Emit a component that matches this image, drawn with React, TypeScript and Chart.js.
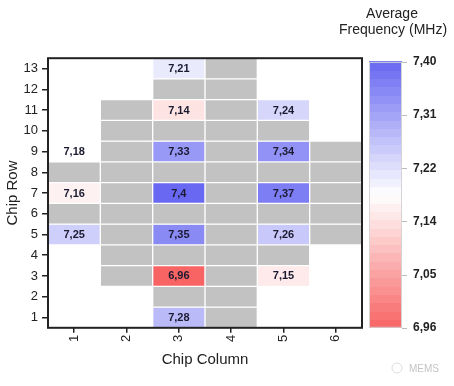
import React, { useEffect, useRef } from 'react';
import { Chart, registerables } from 'chart.js';
Chart.register(...registerables);

const columns = ['1', '2', '3', '4', '5', '6'];
const rowTicks = [1, 2, 3, 4, 5, 6, 7, 8, 9, 10, 11, 12, 13];
// rows 1..13 per column: number = measured frequency (MHz), 0 = chip without data (gray), null = no chip
const column1 = [null, null, null, null, 7.25, 0, 7.16, 0, 7.18, null, null, null, null];
const column2 = [null, null, 0, 0, 0, 0, 0, 0, 0, 0, 0, null, null];
const column3 = [7.28, 0, 6.96, 0, 7.35, 0, 7.4, 0, 7.33, 0, 7.14, 0, 7.21];
const column4 = [0, 0, 0, 0, 0, 0, 0, 0, 0, 0, 0, 0, 0];
const column5 = [null, null, 7.15, 0, 7.26, 0, 7.37, 0, 7.34, 0, 7.24, null, null];
const column6 = [null, null, null, null, 0, 0, 0, 0, 0, null, null, null, null];
// colorbar ticks (equally spaced levels, shown rounded to 2 decimals)
const colorbarTicks = [6.96, 7.048, 7.136, 7.224, 7.312, 7.4];
const colorMin = 6.96;
const colorMid = 7.18;
const colorMax = 7.4;

const FONT = "'Liberation Sans', Arial, Helvetica, sans-serif";
const GRAY = '#c2c2c2';
const RED = [248, 100, 100];
const WHITE = [255, 255, 255];
const BLUE = [104, 104, 242];

function lerp(a: number[], b: number[], t: number) {
  return a.map((v, i) => Math.round(v + (b[i] - v) * t));
}
function colorFor(v: number) {
  let c;
  if (v <= colorMid) c = lerp(WHITE, RED, Math.min(1, (colorMid - v) / (colorMid - colorMin)));
  else c = lerp(WHITE, BLUE, Math.min(1, (v - colorMid) / (colorMax - colorMid)));
  return `rgb(${c[0]},${c[1]},${c[2]})`;
}
function fmt(v: number) {
  return String(v).replace('.', ',');
}

type Cell = { x: string; y: number[]; v: number };
const grid = [column1, column2, column3, column4, column5, column6];
const cells: Cell[] = [];
grid.forEach((col, ci) =>
  col.forEach((v, ri) => {
    if (v === null) return;
    cells.push({ x: columns[ci], y: [rowTicks[ri] - 0.5, rowTicks[ri] + 0.5], v: v as number });
  })
);

const decorPlugin = {
  id: 'decor',
  afterDatasetsDraw(chart: any) {
    const ctx = chart.ctx;
    const meta = chart.getDatasetMeta(0);
    ctx.save();
    ctx.font = `bold 11px ${FONT}`;
    ctx.fillStyle = '#1a1a30';
    ctx.textAlign = 'center';
    ctx.textBaseline = 'middle';
    meta.data.forEach((el: any, i: number) => {
      const c = cells[i];
      if (!c.v) return;
      const p = el.getProps(['x', 'y', 'base'], true);
      ctx.fillText(fmt(c.v), p.x, (p.y + p.base) / 2 + 0.5);
    });
    ctx.restore();
  },
  afterDraw(chart: any) {
    const ctx = chart.ctx;
    const a = chart.chartArea;
    ctx.save();
    // frame
    ctx.strokeStyle = '#222';
    ctx.lineWidth = 2;
    ctx.strokeRect(a.left, a.top, a.right - a.left, a.bottom - a.top);

    // colorbar
    const s = chart.scales.y2;
    const x0 = a.right + 7;
    const x1 = a.right + 40;
    const yTop = s.getPixelForValue(colorMax);
    const yBot = s.getPixelForValue(colorMin);
    const steps = 32;
    for (let i = 0; i < steps; i++) {
      const v0 = colorMin + ((colorMax - colorMin) * i) / steps;
      const v1 = colorMin + ((colorMax - colorMin) * (i + 1)) / steps;
      const vc = (v0 + v1) / 2;
      const p0 = s.getPixelForValue(v0);
      const p1 = s.getPixelForValue(v1);
      ctx.fillStyle = colorFor(vc);
      ctx.fillRect(x0, Math.floor(p1), x1 - x0, Math.ceil(p0) - Math.floor(p1));
    }
    ctx.strokeStyle = '#d4d4d4';
    ctx.lineWidth = 1;
    ctx.strokeRect(x0 + 0.5, yTop + 0.5, x1 - x0 - 1, yBot - yTop - 1);
    ctx.strokeStyle = '#bbb';
    colorbarTicks.forEach((t) => {
      const py = Math.round(s.getPixelForValue(t)) + 0.5;
      ctx.beginPath();
      ctx.moveTo(x1, py);
      ctx.lineTo(x1 + 5, py);
      ctx.stroke();
    });

    // colorbar title
    ctx.fillStyle = '#222';
    ctx.font = `14px ${FONT}`;
    ctx.textAlign = 'center';
    ctx.textBaseline = 'middle';
    ctx.fillText('Average', 392, 14);
    ctx.fillText('Frequency (MHz)', 393, 30);

    // watermark
    ctx.strokeStyle = '#dcdcdc';
    ctx.beginPath();
    ctx.arc(397, 368, 5, 0, Math.PI * 2);
    ctx.stroke();
    ctx.fillStyle = '#c4c4c4';
    ctx.font = `10px ${FONT}`;
    ctx.textAlign = 'left';
    ctx.fillText('MEMS', 409, 369);
    ctx.restore();
  },
};

export default function App() {
  const ref = useRef<HTMLCanvasElement>(null);
  useEffect(() => {
    document.body.style.margin = '0';
    Chart.defaults.font.family = FONT;
    const chart = new Chart(ref.current as HTMLCanvasElement, {
      type: 'bar',
      data: {
        labels: columns,
        datasets: [
          {
            data: cells as any,
            backgroundColor: cells.map((c) => (c.v ? colorFor(c.v) : GRAY)),
            borderColor: '#ffffff',
            borderWidth: 1,
            borderSkipped: false,
            barPercentage: 1,
            categoryPercentage: 1,
            grouped: false,
            yAxisID: 'y',
          } as any,
        ],
      },
      options: {
        animation: false,
        responsive: false,
        events: [],
        layout: { padding: { top: 45, left: 0, right: 0, bottom: 0 } },
        plugins: { legend: { display: false }, tooltip: { enabled: false } },
        scales: {
          x: {
            type: 'category',
            offset: true,
            grid: { display: true, drawOnChartArea: false, drawTicks: true, tickLength: 5, offset: false, color: '#222', lineWidth: 1.5 },
            border: { display: false },
            ticks: { minRotation: 90, maxRotation: 90, padding: 2, autoSkip: false, color: '#222', font: { size: 13 } },
            title: { display: true, text: 'Chip Column', color: '#222', font: { size: 15 }, padding: { top: 0, bottom: 0 } },
            afterFit: (s: any) => {
              s.height = 41;
            },
          },
          y: {
            type: 'linear',
            min: 0.5,
            max: 13.5,
            afterBuildTicks: (axis: any) => {
              axis.ticks = rowTicks.map((v) => ({ value: v }));
            },
            grid: { display: true, drawOnChartArea: false, drawTicks: true, tickLength: 6, color: '#222', lineWidth: 1.5 },
            border: { display: false },
            ticks: { padding: 4, autoSkip: false, color: '#222', font: { size: 13 }, callback: (v: any) => String(v) },
            title: { display: true, text: 'Chip Row', color: '#222', font: { size: 15 }, padding: { top: 4, bottom: 0 } },
            afterFit: (s: any) => {
              s.width = 48;
            },
          },
          y2: {
            type: 'linear',
            position: 'right',
            min: colorMin,
            max: 7.406,
            afterBuildTicks: (axis: any) => {
              axis.ticks = colorbarTicks.map((v) => ({ value: v }));
            },
            grid: { display: false, drawTicks: false, drawOnChartArea: false },
            border: { display: false },
            ticks: { padding: 51, autoSkip: false, color: '#222', font: { size: 12, weight: 'bold' }, callback: (v: any) => Number(v).toFixed(2).replace('.', ',') },
            afterFit: (s: any) => {
              s.width = 92;
            },
          },
        },
      } as any,
      plugins: [decorPlugin],
    });
    return () => chart.destroy();
  }, []);
  return <canvas ref={ref} width={454} height={386} style={{ display: 'block', width: 454, height: 386 }} />;
}
